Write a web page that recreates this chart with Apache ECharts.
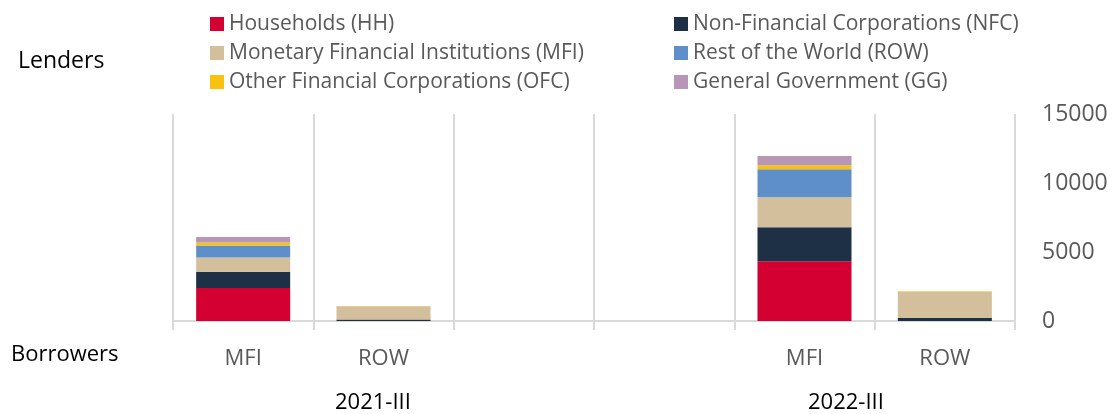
<!DOCTYPE html>
<html>
<head>
<meta charset="utf-8">
<script src="https://cdn.jsdelivr.net/npm/echarts@6/dist/echarts.min.js"></script>
<style>
  html, body { margin: 0; padding: 0; background: #fff; }
  #chart { width: 1117px; height: 414px; }
</style>
</head>
<body>
<div id="chart"></div>
<script>
// borrowers on the x axis, two empty slots between the two quarters
var borrowers = ['MFI', 'ROW', '', '', 'MFI', 'ROW'];
var quarters = ['2021-III', '2022-III'];
var yTicks = [0, 5000, 10000, 15000];

// lenders, stacked bottom to top
var hh  = [2390, 0, null, null, 4330, 0];
var nfc = [1180, 110, null, null, 2460, 240];
var mfi = [1040, 950, null, null, 2170, 1880];
var row = [870, 0, null, null, 2030, 0];
var ofc = [200, 30, null, null, 290, 30];
var gg  = [410, 0, null, null, 670, 0];

var names = {
    hh: 'Households (HH)',
    nfc: 'Non-Financial Corporations (NFC)',
    mfi: 'Monetary Financial Institutions (MFI)',
    row: 'Rest of the World (ROW)',
    ofc: 'Other Financial Corporations (OFC)',
    gg: 'General Government (GG)'
};
var colors = {
    hh: '#d50032', nfc: '#1e3046', mfi: '#d4bf9c',
    row: '#5f8fc9', ofc: '#f8c20f', gg: '#b896b6'
};

function mkSeries(key, d) {
    return {
        name: names[key],
        type: 'bar',
        stack: 'lenders',
        data: d,
        barWidth: '67%',
        itemStyle: { color: colors[key] }
    };
}

var font = '"Open Sans", "Noto Sans", sans-serif';
var legendText = { fontFamily: font, fontSize: 21, color: '#595959', lineHeight: 22 };

var chart = echarts.init(document.getElementById('chart'));
chart.setOption({
    animation: false,
    grid: { left: 173, right: 102, top: 114, bottom: 93 },
    legend: [{
        orient: 'vertical',
        left: 205, top: 8,
        itemWidth: 14, itemHeight: 14, itemGap: 7,
        icon: 'rect',
        textStyle: legendText,
        data: [names.hh, names.mfi, names.ofc]
    }, {
        orient: 'vertical',
        left: 669, top: 8,
        itemWidth: 14, itemHeight: 14, itemGap: 7,
        icon: 'rect',
        textStyle: legendText,
        data: [names.nfc, names.row, names.gg]
    }],
    xAxis: {
        type: 'category',
        data: borrowers,
        axisLine: { lineStyle: { color: '#d9d9d9', width: 2 } },
        axisTick: { show: true, length: 9, lineStyle: { color: '#d9d9d9', width: 2 } },
        splitLine: { show: true, lineStyle: { color: '#d9d9d9', width: 2 } },
        axisLabel: { interval: 0, margin: 27, fontFamily: font, fontSize: 22, color: '#595959' }
    },
    yAxis: {
        type: 'value',
        position: 'right',
        min: 0, max: yTicks[yTicks.length - 1], interval: yTicks[1] - yTicks[0],
        axisLine: { show: false },
        axisTick: { show: false },
        splitLine: { show: false },
        axisLabel: {
            margin: 27, fontFamily: font, fontSize: 23, color: '#595959',
            formatter: function(v) { return String(v); }
        }
    },
    graphic: [
        { type: 'text', left: 18, top: 50, style: { text: 'Lenders', font: '23px ' + font, fill: '#000' } },
        { type: 'text', left: 11, top: 344, style: { text: 'Borrowers', font: '22px ' + font, fill: '#000' } },
        { type: 'text', left: 335, top: 392, style: { text: quarters[0], font: '22px ' + font, fill: '#000' } },
        { type: 'text', left: 808, top: 392, style: { text: quarters[1], font: '22px ' + font, fill: '#000' } }
    ],
    series: [
        mkSeries('hh', hh),
        mkSeries('nfc', nfc),
        mkSeries('mfi', mfi),
        mkSeries('row', row),
        mkSeries('ofc', ofc),
        mkSeries('gg', gg)
    ]
});
</script>
</body>
</html>
